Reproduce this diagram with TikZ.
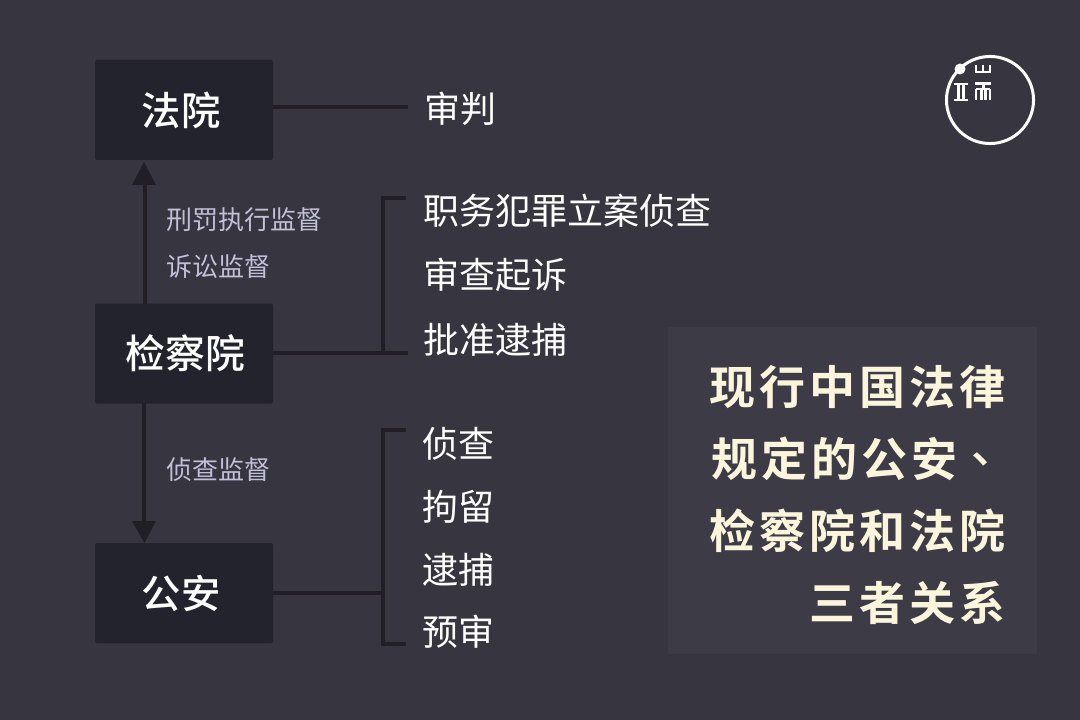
\documentclass[tikz,border=0pt]{standalone}
\usepackage{fontspec}
\setmainfont{Noto Sans CJK SC}
\newfontfamily\boxfont{Noto Sans CJK SC Medium}
\newfontfamily\titlefont[LetterSpace=9]{Noto Sans CJK SC Bold}
\newfontfamily\titlefontTC[LetterSpace=9]{Noto Sans CJK TC Medium}
\definecolor{bgc}{HTML}{37353F}
\definecolor{boxc}{HTML}{23232E}
\definecolor{panelc}{HTML}{3D3B46}
\definecolor{linec}{HTML}{211E26}
\definecolor{labelc}{HTML}{C2BFD8}
\definecolor{titlec}{HTML}{FBF5DC}
\tikzset{
  x=0.75pt,y=-0.75pt,
  orgbox/.style={fill=boxc,rounded corners=1.5pt,text=white,minimum width=133.5pt,minimum height=75pt,inner sep=0pt,font=\boxfont\fontsize{29.5}{29.5}\selectfont},
  duty/.style={anchor=west,inner sep=0pt,text=white,font=\fontsize{27}{27}\selectfont},
  monitor/.style={anchor=west,inner sep=0pt,text=labelc,font=\fontsize{19.5}{19.5}\selectfont},
  titleline/.style={anchor=east,inner sep=0pt,text=titlec,font=\titlefont\fontsize{34.5}{34.5}\selectfont},
  wire/.style={draw=linec,line width=3pt},
  arrowline/.style={draw=linec,line width=3pt},
  tip/.style={fill=linec,draw=none},
  logoline/.style={draw=white,line width=2pt}
}
\begin{document}
\begin{tikzpicture}
\useasboundingbox (0,0) rectangle (1080,720);
\fill[bgc] (0,0) rectangle (1080,720);
\fill[panelc] (668,327) rectangle (1037,654);
\node[orgbox] (fa) at (184,110) {\hspace*{-4.5pt}法院};
\node[orgbox] (jian) at (184,353.5) {\fontsize{29.8}{29.8}\selectfont\hspace*{2pt}检察院};
\node[orgbox] (gong) at (184,593) {\hspace*{-4.5pt}公安};
\coordinate (faend) at (408,107);
\coordinate (jianend) at (408,353);
\coordinate (gongend) at (383,592.5);
\coordinate (b1t) at (406,198);
\coordinate (b1c) at (383,198);
\coordinate (b1b) at (383,353);
\coordinate (b2t) at (406,430);
\coordinate (b2c) at (383,430);
\coordinate (b2d) at (383,644);
\coordinate (b2b) at (406,644);
\draw[wire] (fa.east |- faend) -- (faend);
\draw[wire] (jian.east |- jianend) -- (jianend);
\draw[wire] (gong.east |- gongend) -- (gongend);
\draw[wire] (b1t) -- (b1c) -- (b1b);
\draw[wire] (b2t) -- (b2c) -- (b2d) -- (b2b);
\coordinate (upA) at (144.5,304);
\coordinate (upB) at (144.5,185);
\coordinate (dnA) at (144,403);
\coordinate (dnB) at (144,522);
\draw[arrowline] (upA) -- (upB);
\draw[arrowline] (dnA) -- (dnB);
\fill[tip] (144,162) -- (156,185) -- (132,185) -- cycle;
\fill[tip] (144.5,543) -- (156,521) -- (132,521) -- cycle;
\node[monitor] (m1) at (166,219.5) {刑罚执行监督};
\node[monitor] (m2) at (166,266.5) {诉讼监督};
\node[monitor] (m3) at (166,469.5) {侦查监督};
\node[duty] (d0) at (424,109) {审判};
\node[duty] (d1) at (423.5,211) {职务犯罪立案侦查};
\node[duty] (d2) at (423.5,275) {审查起诉};
\node[duty] (d3) at (423,339.5) {批准逮捕};
\node[duty] (d4) at (422.5,444) {侦查};
\node[duty] (d5) at (422.5,507) {拘留};
\node[duty] (d6) at (422.5,570) {逮捕};
\node[duty] (d7) at (422.5,632) {预审};
\node[titleline] (t1) at (1006,387) {现行中国法律};
\node[titleline] (t2) at (1004,459) {规定的公安{\titlefontTC\fontsize{34.5}{34.5}\selectfont 、}};
\node[titleline] (t3) at (1006,531) {检察院和法院};
\node[titleline] (t4) at (1006,603) {三者关系};
\node[circle,draw=white,line width=2.25pt,minimum size=65.3pt,inner sep=0pt] (logo) at (990,100) {};
\fill[white] (960,69) circle (5.5);
\draw[logoline] (954,84) -- (968,84) (954,100) -- (968,100) (958.5,84) -- (958.5,100) (963.5,84) -- (963.5,100);
\draw[logoline] (976,65) -- (976,72) -- (990,72) -- (990,65) (983,65) -- (983,72);
\draw[logoline] (975,83.5) -- (991,83.5) (976,89) -- (990,89) (976,89) -- (976,100.5) (990,89) -- (990,100.5) (981.5,89) -- (981.5,100) (985.5,89) -- (985.5,100) (983.5,83.5) -- (983.5,89);
\end{tikzpicture}
\end{document}
